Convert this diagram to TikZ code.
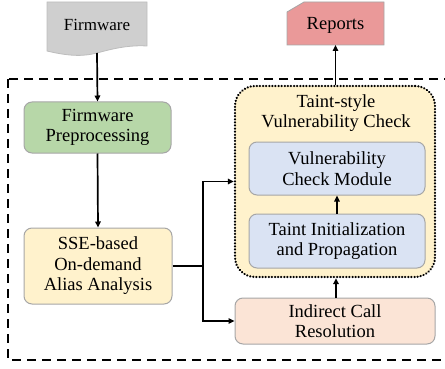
\documentclass[tikz,border=0pt]{standalone}
\usepackage{fontspec}
\setmainfont{Liberation Serif}
\usetikzlibrary{arrows.meta,positioning}
\definecolor{fwgray}{HTML}{CFCFCF}
\definecolor{fwborder}{HTML}{BDBDBD}
\definecolor{boxborder}{HTML}{A6A6A6}
\definecolor{greenfill}{HTML}{B7D7A8}
\definecolor{yellowfill}{HTML}{FFF2CC}
\definecolor{bluefill}{HTML}{DAE3F3}
\definecolor{peachfill}{HTML}{FBE4D6}
\definecolor{pinkfill}{HTML}{EA9999}
\tikzset{
  txt/.style={font=\fontsize{18.5}{20.5}\selectfont, align=center, inner sep=0pt},
  procbox/.style={txt, draw=boxborder, line width=1pt, rounded corners=8pt},
  conn/.style={line width=1.7pt, -{Triangle[length=6pt,width=5.5pt]}},
  plainline/.style={line width=1.7pt},
}
\begin{document}
\begin{tikzpicture}[x=1pt,y=-1pt]
\useasboundingbox (0,0) rectangle (445,369);
% outer dashed frame
\draw[line width=2.3pt, dash pattern=on 9pt off 6pt] (8,79) rectangle (452,360);
% Firmware document shape
\draw[draw=fwborder, fill=fwgray, line width=0.8pt]
  (47,2) -- (147,2) -- (147,46)
  .. controls (130,45) and (115,48) .. (97,53)
  .. controls (85,56) and (72,57) .. (47,51) -- cycle;
\node[txt, font=\fontsize{17}{19}\selectfont] (fw) at (97,25) {Firmware};
\coordinate (fwb) at (97,53);
% Reports shape
\draw[draw=boxborder, fill=pinkfill, line width=0.8pt]
  (304,2) -- (384,2) -- (384,45) -- (287,45) -- (287,12) -- cycle;
\node[txt] (rep) at (335.5,25) {Reports};
\coordinate (repb) at (335.5,45);
% left column
\node[procbox, fill=greenfill, minimum width=147pt, minimum height=51pt] (fp) at (97.5,127.5) {Firmware\\Preprocessing};
\node[procbox, fill=yellowfill, minimum width=148pt, minimum height=76pt] (sse) at (98,266) {SSE-based\\On-demand\\Alias Analysis};
% taint-style container
\node[draw, fill=yellowfill, line width=2.4pt, dash pattern=on 0.1pt off 3pt, line cap=round, rounded corners=20pt, minimum width=200pt, minimum height=191pt, inner sep=0pt] (ts) at (335,181.5) {};
\node[txt] (tstitle) at (336,113) {Taint-style\\Vulnerability Check};
\node[procbox, fill=bluefill, minimum width=176pt, minimum height=53pt] (vcm) at (337,168.5) {Vulnerability\\Check Module};
\node[procbox, fill=bluefill, minimum width=176pt, minimum height=54pt] (tip) at (337,241) {Taint Initialization\\and Propagation};
\node[procbox, fill=peachfill, minimum width=200pt, minimum height=46pt] (icr) at (335,321) {Indirect Call\\Resolution};
% connectors
\coordinate (j) at (203,266);
\draw[conn] (fwb) -- (fp.north);
\draw[conn] (fp.south) -- (sse.north);
\draw[plainline] (sse.east) -- (j);
\draw[conn] (j) |- (ts.west);
\draw[conn] (j) |- (icr.west);
\draw[conn] (tip.north) -- (vcm.south);
\draw[conn] (icr.north -| 336,0) -- (ts.south -| 336,0);
\draw[conn] (ts.north -| repb) -- (repb);
\end{tikzpicture}
\end{document}
